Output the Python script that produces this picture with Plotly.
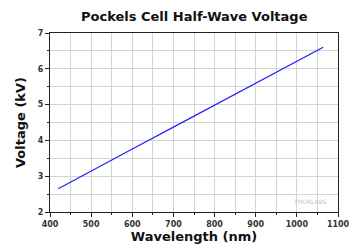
import plotly.graph_objects as go

wavelength_nm = [420, 500, 600, 700, 800, 900, 1000, 1064]
voltage_kv = [2.65, 3.15, 3.76, 4.37, 4.98, 5.60, 6.21, 6.60]

x_ticks = [400, 500, 600, 700, 800, 900, 1000, 1100]
y_ticks = [2, 3, 4, 5, 6, 7]

fig = go.Figure()
fig.add_trace(go.Scatter(x=wavelength_nm, y=voltage_kv, mode="lines",
                         line=dict(color="#2020ff", width=1.2), showlegend=False))

font_family = "DejaVu Sans, Verdana, sans-serif"
fig.update_layout(
    width=350, height=244,
    margin=dict(l=50, r=12, t=33, b=32, autoexpand=False),
    paper_bgcolor="white", plot_bgcolor="white",
    title=dict(text="<b>Pockels Cell Half-Wave Voltage</b>", x=0.555, xanchor="center",
               y=1 - 16 / 244, yanchor="middle",
               font=dict(family=font_family, size=13, color="#111")),
    xaxis=dict(range=[400, 1100], tickvals=x_ticks, ticktext=["<b>%d</b>" % v for v in x_ticks],
               showgrid=True, gridcolor="#d4d4d4", gridwidth=1,
               minor=dict(dtick=50, showgrid=True, gridcolor="#d4d4d4", ticks="outside",
                          ticklen=2, tickcolor="#222"),
               ticks="outside", ticklen=4, tickcolor="#222",
               showline=True, linecolor="#222", linewidth=1.2, mirror=True,
               zeroline=False, automargin=False,
               tickfont=dict(family=font_family, size=8, color="#333"),
               title=dict(text="<b>Wavelength (nm)</b>", standoff=1,
                          font=dict(family=font_family, size=13, color="#111"))),
    yaxis=dict(range=[2, 7], tickvals=y_ticks, ticktext=["<b>%d</b>" % v for v in y_ticks],
               showgrid=True, gridcolor="#d4d4d4", gridwidth=1,
               minor=dict(dtick=0.5, showgrid=True, gridcolor="#d4d4d4", ticks="outside",
                          ticklen=2, tickcolor="#222"),
               ticks="outside", ticklen=4, tickcolor="#222",
               showline=True, linecolor="#222", linewidth=1.2, mirror=True,
               zeroline=False, automargin=False,
               tickfont=dict(family=font_family, size=8, color="#333"),
               title=dict(text="<b>Voltage (kV)</b>", standoff=9,
                          font=dict(family=font_family, size=13, color="#111"))),
)
fig.add_annotation(x=0.97, y=0.06, xref="paper", yref="paper", xanchor="right",
                   yanchor="middle", showarrow=False,
                   text="THORLABS",
                   font=dict(family=font_family, size=6, color="#c0c0c0"))

fig.write_html("out.html", config={"displayModeBar": False},
               post_script="document.body.style.margin='0';")
